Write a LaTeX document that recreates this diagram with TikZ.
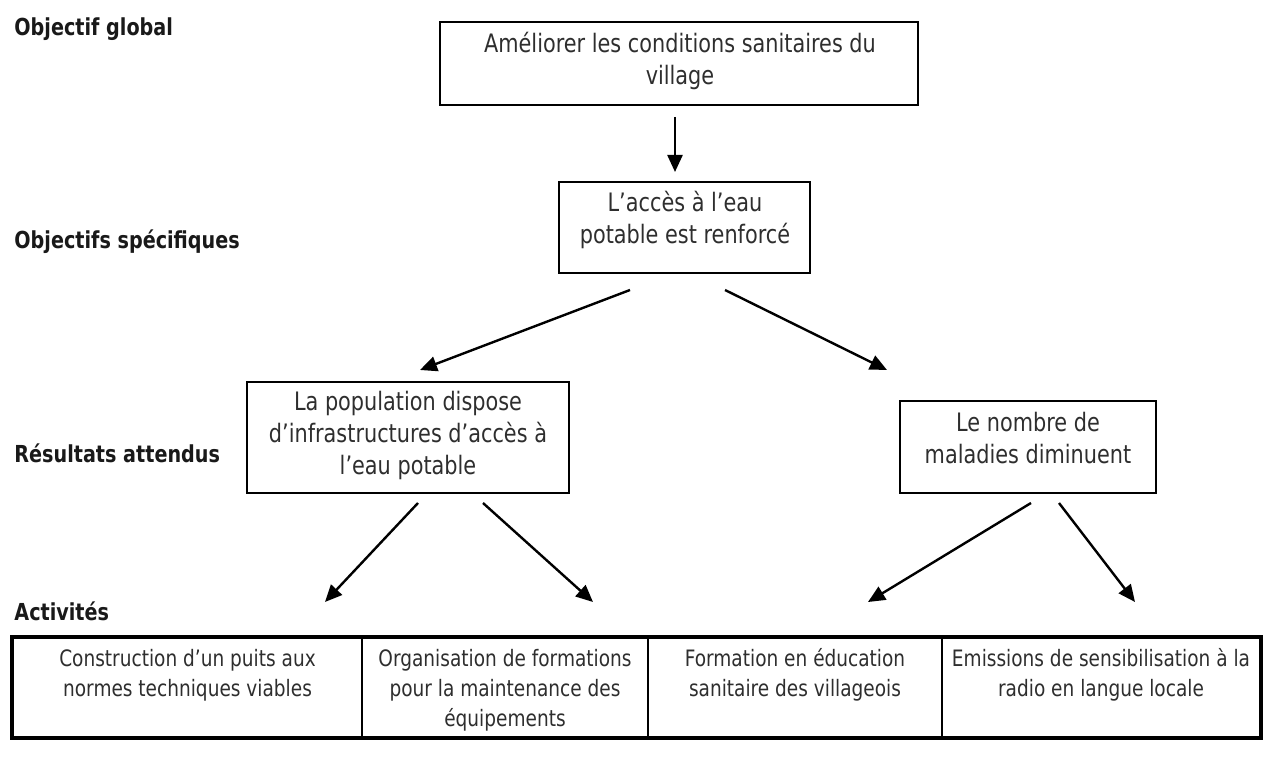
\documentclass[tikz,border=0pt]{standalone}
\usepackage{fontspec}
\setmainfont{DejaVu Sans}[FakeStretch=0.82]
\usetikzlibrary{arrows.meta}
\definecolor{ink}{gray}{0.18}
\begin{document}
\begin{tikzpicture}[x=0.5pt,y=-0.5pt,
  box/.style={draw=black, line width=1pt, inner sep=0pt},
  cellbox/.style={draw=black, line width=1pt, inner sep=0pt, minimum height=49.5pt},
  txt/.style={align=center, text=ink, inner sep=0pt, font=\fontsize{12.7}{16}\selectfont},
  celltxt/.style={align=center, text=ink, inner sep=0pt, font=\fontsize{11.3}{15}\selectfont},
  lab/.style={anchor=west, text=black!90, inner sep=0pt, font=\bfseries\fontsize{11.7}{14}\selectfont},
  arr/.style={-{Triangle[length=8.5pt,width=7.5pt]}, line width=1.2pt}]
\useasboundingbox (0,0) rectangle (1280,758);

% level labels
\node[lab] (l1) at (14,29) {Objectif global};
\node[lab] (l2) at (14,242) {Objectifs spécifiques};
\node[lab] (l3) at (14,453) {Résultats attendus};
\node[lab] (l4) at (14,611) {Activités};

% boxes
\node[box, minimum width=239pt, minimum height=41.5pt] (b1) at (679,63.5) {};
\node[txt] (t1) at (680,61) {Améliorer les conditions sanitaires du\\village};

\node[box, minimum width=125.5pt, minimum height=45.5pt] (b2) at (684.5,227.5) {};
\node[txt] (t2) at (685,220) {L’accès à l’eau\\potable est renforcé};

\node[box, minimum width=161pt, minimum height=55.5pt] (b3) at (408,437.5) {};
\node[txt] (t3) at (408,435) {La population dispose\\d’infrastructures d’accès à\\l’eau potable};

\node[box, minimum width=128pt, minimum height=46pt] (b4) at (1028,447) {};
\node[txt] (t4) at (1028,438) {Le nombre de\\maladies diminuent};

% arrows
\coordinate (a1s) at (675,117);  \coordinate (a1e) at (675,172);
\coordinate (a2s) at (630,290);  \coordinate (a2e) at (420,370);
\coordinate (a3s) at (725,290);  \coordinate (a3e) at (887,370);
\coordinate (a4s) at (418,503);  \coordinate (a4e) at (325,602);
\coordinate (a5s) at (483,503);  \coordinate (a5e) at (593,602);
\coordinate (a6s) at (1031,503); \coordinate (a6e) at (868,602);
\coordinate (a7s) at (1059,503); \coordinate (a7e) at (1135,602);
\draw[arr] (a1s) -- (a1e);
\draw[arr] (a2s) -- (a2e);
\draw[arr] (a3s) -- (a3e);
\draw[arr] (a4s) -- (a4e);
\draw[arr] (a5s) -- (a5e);
\draw[arr] (a6s) -- (a6e);
\draw[arr] (a7s) -- (a7e);

% activity table
\node[cellbox, minimum width=174.5pt] (c1) at (187.5,687.5) {};
\node[cellbox, minimum width=143pt] (c2) at (505,687.5) {};
\node[cellbox, minimum width=147pt] (c3) at (795,687.5) {};
\node[cellbox, minimum width=159pt] (c4) at (1101,687.5) {};
\draw[line width=1.6pt] (c1.north west) rectangle (c4.south east);

\node[celltxt] (tc1) at (187.5,675) {Construction d’un puits aux\\normes techniques viables};
\node[celltxt] (tc2) at (505,690) {Organisation de formations\\pour la maintenance des\\équipements};
\node[celltxt] (tc3) at (795,675) {Formation en éducation\\sanitaire des villageois};
\node[celltxt] (tc4) at (1101,675) {Emissions de sensibilisation à la\\radio en langue locale};
\end{tikzpicture}
\end{document}
